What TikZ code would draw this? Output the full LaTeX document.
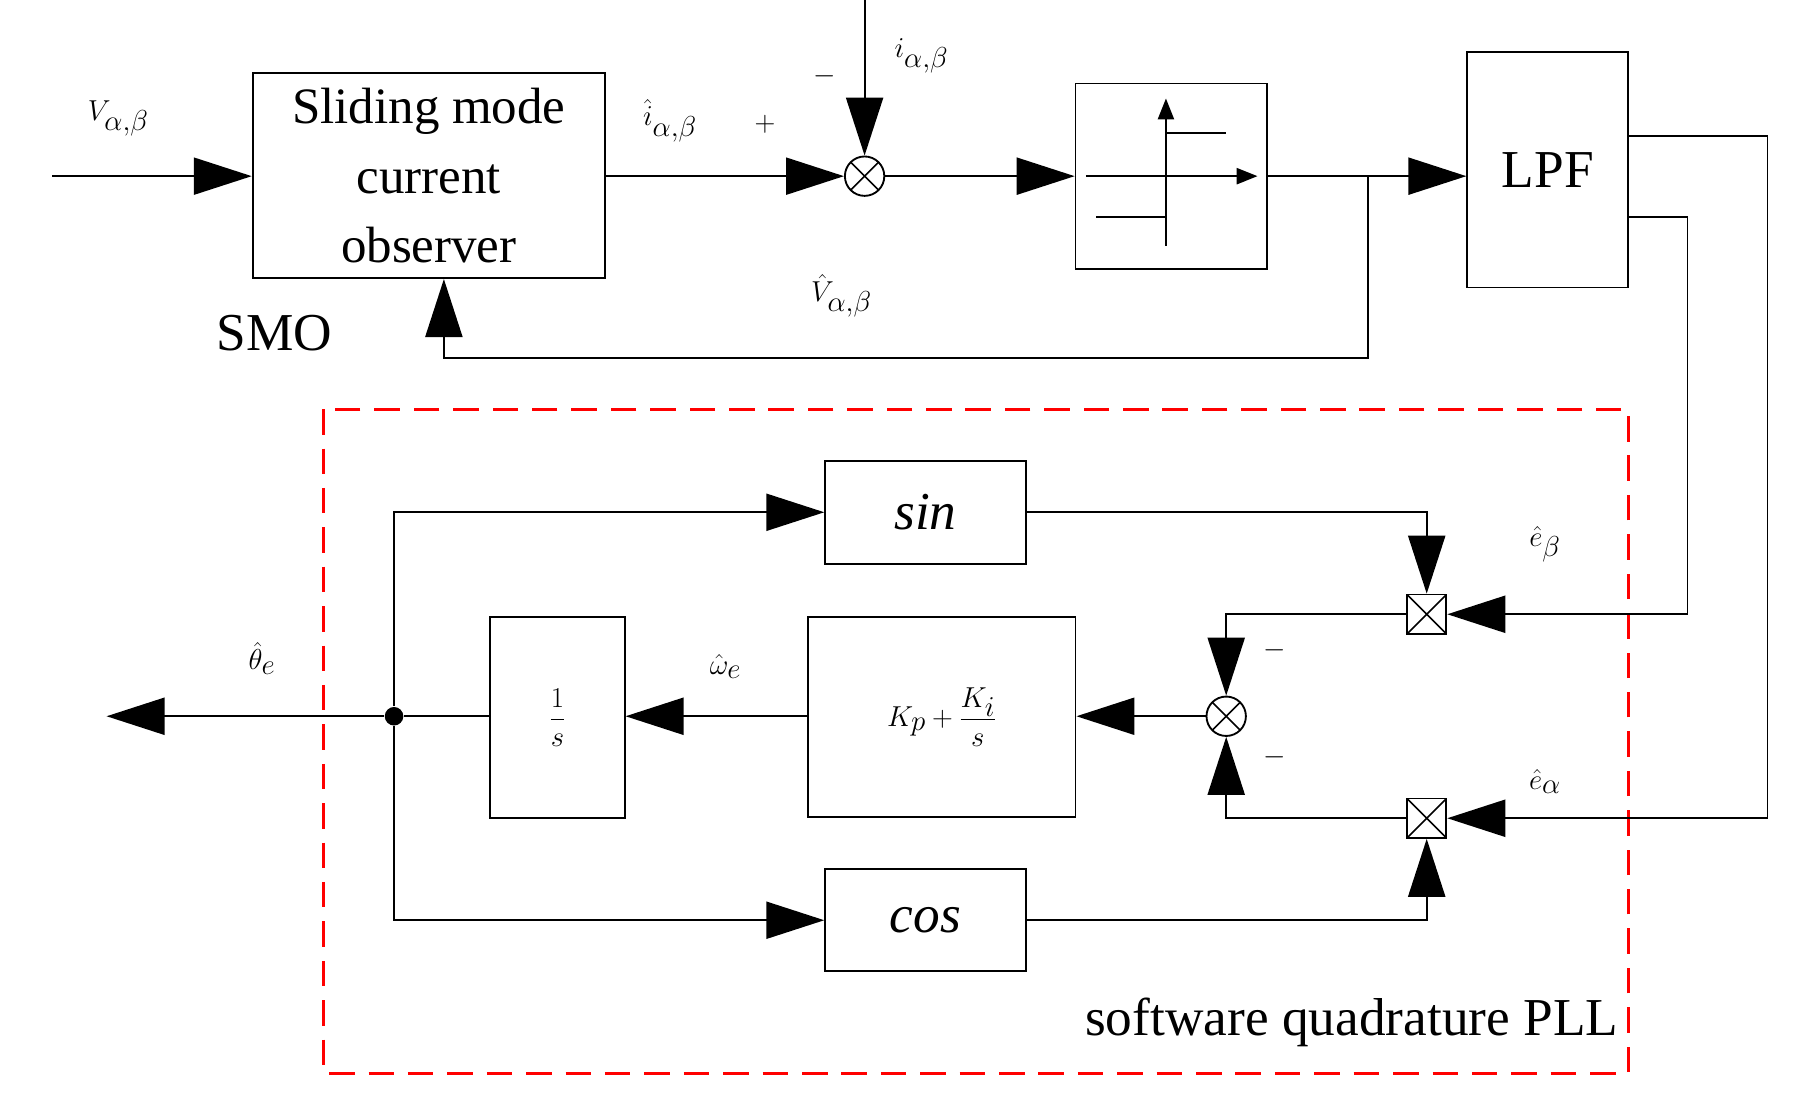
\documentclass[tikz,border=0pt]{standalone}
\usepackage{fontspec}
\setmainfont{Liberation Serif}
\usetikzlibrary{arrows.meta}
\begin{document}
\begin{tikzpicture}[x=1pt,y=-1pt,line width=1.6pt,
  big/.style={-{Triangle[length=50pt,width=32pt]}},
  blk/.style={draw,line width=1.6pt,inner sep=0pt,font=\fontsize{46}{50}\selectfont},
  lab/.style={font=\fontsize{46}{50}\selectfont,inner sep=0pt},
  sumc/.style={draw,circle,minimum size=34pt,inner sep=0pt,line width=1.6pt,
    path picture={\draw[line width=1.4pt] (path picture bounding box.south west)--(path picture bounding box.north east)
      (path picture bounding box.north west)--(path picture bounding box.south east);}},
  mulb/.style={draw,rectangle,minimum size=34pt,inner sep=0pt,line width=1.6pt,
    path picture={\draw[line width=1.4pt] (path picture bounding box.south west)--(path picture bounding box.north east)
      (path picture bounding box.north west)--(path picture bounding box.south east);}}]
\useasboundingbox (0,0) rectangle (1560,955);
% top
\coordinate (vin) at (45,152);
\node[blk,minimum width=304pt,minimum height=177pt,align=center,font=\fontsize{44}{60}\selectfont] (smo) at (370,151.5) {Sliding mode\\current\\observer};
\node[lab] at (237,287) {SMO};
\draw[big] (vin) -- (smo.west |- vin);
\node[lab] at (102,102) {$V_{\alpha,\beta}$};
\node[sumc] (s1) at (746,152) {};
\coordinate (itop) at (746,0);
\draw[big] (smo.east |- s1) -- (s1);
\draw[big] (itop) -- (s1);
\node[lab] at (578,104) {$\hat{i}_{\alpha,\beta}$};
\node[lab] at (660,107) {$+$};
\node[lab] at (712,66) {$-$};
\node[lab] at (795,48) {$i_{\alpha,\beta}$};
\node[blk,minimum width=165pt,minimum height=160pt] (sw) at (1010.5,152) {};
\draw[-{Triangle[length=18pt,width=14pt]},line width=1.4pt] (1006,212) -- (1006,85);
\draw[-{Triangle[length=18pt,width=14pt]},line width=1.4pt] (937,152) -- (1085,152);
\draw[line width=1.4pt] (1006,115) -- (1058,115) (946,187) -- (1006,187);
\draw[big] (s1) -- (sw.west |- s1);
\node[blk,minimum width=139pt,minimum height=203pt] (lpf) at (1335.5,146.5) {LPF};
\draw[big] (sw.east |- s1) -- (lpf.west |- s1);
\coordinate (br) at (1180,152);
\coordinate (fb) at (383,309);
\draw[big] (br) -- (1180,309) -- (fb) -- (smo.south -| fb);
\node[lab] at (726,255) {$\hat{V}_{\alpha,\beta}$};
% PLL
\draw[red,line width=2.6pt,dash pattern=on 22pt off 12pt] (279,353) rectangle (1405,926);
\node[lab,anchor=east] at (1397,882) {software quadrature PLL};
\node[mulb] (mb) at (1231,530) {};
\node[mulb] (ma) at (1231,706) {};
\coordinate (o1) at (1405,117);
\coordinate (o2) at (1405,187);
\draw[big] (o1) -- (1525,117) |- (ma);
\draw[big] (o2) -- (1456,187) |- (mb);
\node[lab] at (1333,470) {$\hat{e}_{\beta}$};
\node[lab] at (1333,674) {$\hat{e}_{\alpha}$};
\node[blk,minimum width=173pt,minimum height=89pt] (sin) at (798.5,442) {$\mathit{sin}$};
\node[blk,minimum width=173pt,minimum height=88pt] (cos) at (798.5,794) {$\mathit{cos}$};
\draw[big] (sin.east) -| (mb);
\draw[big] (cos.east) -| (ma);
\node[sumc] (s2) at (1058,618) {};
\draw[big] (mb) -| (s2);
\draw[big] (ma) -| (s2);
\node[lab] at (1100,561) {$-$};
\node[lab] at (1100,653) {$-$};
\node[blk,minimum width=231pt,minimum height=173pt] (pi) at (812.5,618.5) {$K_p+\displaystyle\frac{K_i}{s}$};
\draw[big] (s2) -- (pi.east |- s2);
\node[blk,minimum width=116pt,minimum height=174pt] (int) at (481,619) {$\displaystyle\frac{1}{s}$};
\draw[big] (pi.west |- s2) -- (int.east |- s2);
\node[lab] at (626,575) {$\hat{\omega}_e$};
\node[circle,fill,inner sep=0pt,minimum size=16pt] (dot) at (340,618) {};
\coordinate (out) at (92,618);
\draw (int.west |- dot) -- (dot);
\draw[big] (dot) -- (out);
\node[lab] at (226,568) {$\hat{\theta}_e$};
\draw[big] (dot) |- (sin.west);
\draw[big] (dot) |- (cos.west);
\end{tikzpicture}
\end{document}
